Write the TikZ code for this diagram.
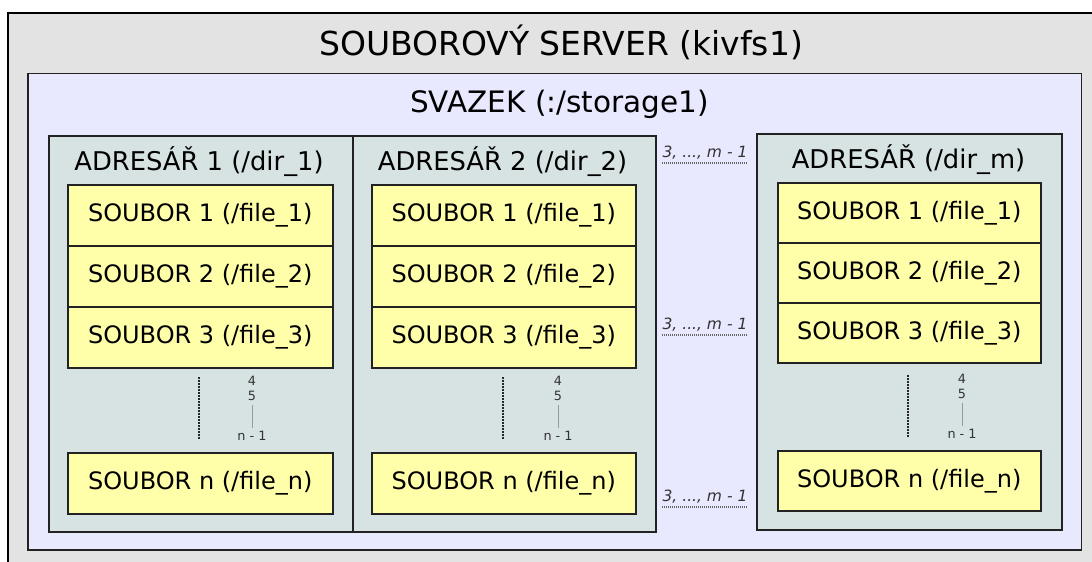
\documentclass[tikz,border=0pt]{standalone}
\usepackage{fontspec}
\setmainfont{DejaVu Sans}
\definecolor{serverfill}{HTML}{E3E3E3}
\definecolor{volfill}{HTML}{E8E8FF}
\definecolor{dirfill}{HTML}{D7E3E3}
\definecolor{filefill}{HTML}{FFFFAA}
\definecolor{edge}{HTML}{222222}
\definecolor{labelgray}{HTML}{333333}
\tikzset{
  serverbox/.style={draw=black, line width=2pt, fill=serverfill, anchor=north west, inner sep=0pt},
  volbox/.style={draw=edge, line width=1.5pt, fill=volfill, anchor=north west, inner sep=0pt},
  dirbox/.style={draw=edge, line width=1.5pt, fill=dirfill, anchor=north west, inner sep=0pt},
  filebox/.style={draw=edge, line width=1.5pt, fill=filefill, anchor=north west, inner sep=0pt,
    font=\fontsize{24}{28}\selectfont},
  servertitle/.style={font=\fontsize{33}{38}\selectfont, inner sep=0pt},
  voltitle/.style={font=\fontsize{29.5}{34}\selectfont, inner sep=0pt},
  dirtitle/.style={font=\fontsize{25.8}{30}\selectfont, inner sep=0pt},
  idx/.style={font=\fontsize{12.8}{15}\selectfont, text=labelgray, inner sep=0pt},
  dirgap/.style={font=\fontsize{15.5}{18}\selectfont\itshape, text=labelgray, inner sep=0pt},
  dotline/.style={draw=black!85, line width=2pt, dash pattern=on 1.5pt off 1.5pt},
  gapline/.style={draw=black!60, line width=1.6pt, dash pattern=on 1pt off 1pt},
  rangeline/.style={draw=black!40, line width=0.8pt},
}
\begin{document}
\begin{tikzpicture}[x=1pt, y=-1pt]
\clip (0,0) rectangle (1092,562);
\fill[white] (0,0) rectangle (1092,562);

% server and volume
\node[serverbox, minimum width=1110pt, minimum height=570pt] (server) at (7,12) {};
\node[servertitle] (servertitle) at (561,42) {SOUBOROVÝ SERVER (kivfs1)};
\node[volbox, minimum width=1053.5pt, minimum height=476.5pt] (vol) at (27,72.5) {};
\node[voltitle] (voltitle) at (559.5,104) {SVAZEK (:/storage1)};

% directories
\node[dirbox, minimum width=304pt, minimum height=396pt] (dirA) at (48,135) {};
\node[dirbox, minimum width=303pt, minimum height=396pt] (dirB) at (352,135) {};
\node[dirbox, minimum width=305pt, minimum height=396pt] (dirM) at (756,133) {};
\node[dirtitle] (dirAtitle) at (199,162) {ADRESÁŘ 1 (/dir\_1)};
\node[dirtitle] (dirBtitle) at (502.5,162) {ADRESÁŘ 2 (/dir\_2)};
\node[dirtitle] (dirMtitle) at (908.5,160) {ADRESÁŘ (/dir\_m)};

% files of directory 1
\node[filebox, minimum width=265pt, minimum height=61pt] (a1) at (67,184) {SOUBOR 1 (/file\_1)};
\node[filebox, minimum width=265pt, minimum height=61pt] (a2) at (67,245) {SOUBOR 2 (/file\_2)};
\node[filebox, minimum width=265pt, minimum height=61pt] (a3) at (67,306) {SOUBOR 3 (/file\_3)};
\node[filebox, minimum width=265pt, minimum height=61pt] (an) at (67,452) {SOUBOR n (/file\_n)};

% files of directory 2
\node[filebox, minimum width=264pt, minimum height=61pt] (b1) at (371,184) {SOUBOR 1 (/file\_1)};
\node[filebox, minimum width=264pt, minimum height=61pt] (b2) at (371,245) {SOUBOR 2 (/file\_2)};
\node[filebox, minimum width=264pt, minimum height=61pt] (b3) at (371,306) {SOUBOR 3 (/file\_3)};
\node[filebox, minimum width=264pt, minimum height=61pt] (bn) at (371,452) {SOUBOR n (/file\_n)};

% files of directory m
\node[filebox, minimum width=263pt, minimum height=60pt] (m1) at (777,182) {SOUBOR 1 (/file\_1)};
\node[filebox, minimum width=263pt, minimum height=60pt] (m2) at (777,242) {SOUBOR 2 (/file\_2)};
\node[filebox, minimum width=263pt, minimum height=60pt] (m3) at (777,302) {SOUBOR 3 (/file\_3)};
\node[filebox, minimum width=263pt, minimum height=60pt] (mn) at (777,450) {SOUBOR n (/file\_n)};

% omitted files 4 .. n-1
\foreach \d/\dx/\lx/\dy in {A/199/252/0, B/503/558/0, M/908/962/-2} {
  \coordinate (\d top) at (\dx,377+\dy);
  \coordinate (\d bot) at (\dx,440+\dy);
  \draw[dotline] (\d top) -- (\d bot);
  \node[idx] (\d four) at (\lx,381+\dy) {4};
  \node[idx] (\d five) at (\lx,396+\dy) {5};
  \node[idx] (\d last) at (\lx,436+\dy) {n - 1};
  \coordinate (\d r1) at (\lx,405+\dy);
  \coordinate (\d r2) at (\lx,428+\dy);
  \draw[rangeline] (\d r1) -- (\d r2);
}

% omitted directories 3 .. m-1
\foreach \n/\y in {g1/153, g2/325, g3/497} {
  \node[dirgap] (\n) at (705,\y) {3, ..., m - 1};
  \coordinate (\n l) at (662,\y+10);
  \coordinate (\n r) at (748,\y+10);
  \draw[gapline] (\n l) -- (\n r);
}
\end{tikzpicture}
\end{document}
